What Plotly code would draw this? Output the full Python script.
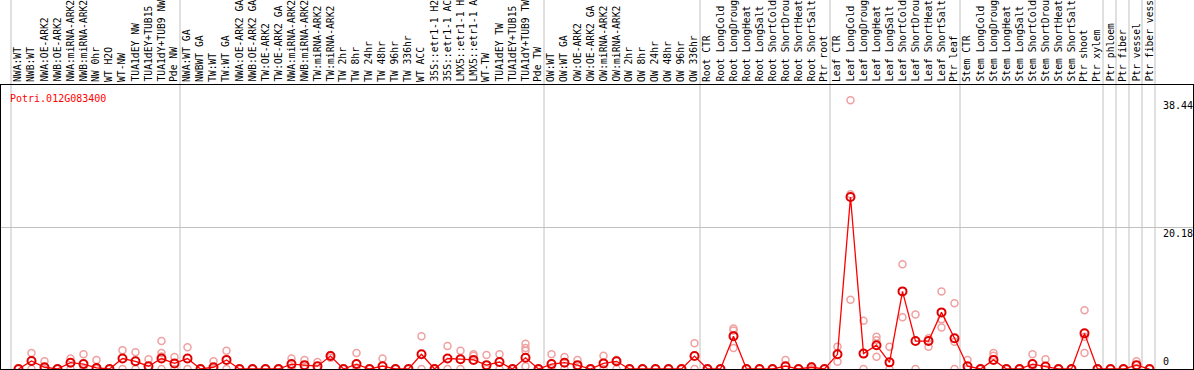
import plotly.graph_objects as go

gene = "Potri.012G083400"

labels = [
    # group 1
    "NWA:WT", "NWB:WT", "NWA:OE-ARK2", "NWB:OE-ARK2", "NWA:miRNA-ARK2", "NWB:miRNA-ARK2",
    "NW 0hr", "WT H2O", "WT-NW", "TUA1dEY NW", "TUA1dEY+TUB15", "TUA1dY+TUB9 NW", "Pde NW",
    # group 2
    "NWA:WT GA", "NWBWT GA", "TW:WT", "TW:WT GA", "NWA:OE-ARK2 GA", "NWB:OE-ARK2 GA",
    "TW:OE-ARK2", "TW:OE-ARK2 GA", "NWA:miRNA-ARK2", "NWB:miRNA-ARK2", "TW:miRNA-ARK2",
    "TW:miRNA-ARK2", "TW 2hr", "TW 8hr", "TW 24hr", "TW 48hr", "TW 96hr", "TW 336hr", "WT ACC",
    "35S::etr1-1 H2", "35S::etr1-1 AC", "LMX5::etr1-1 H", "LMX5::etr1-1 A", "WT-TW",
    "TUA1dEY TW", "TUA1dEY+TUB15", "TUA1dY+TUB9 TW", "Pde TW",
    # group 3
    "OW:WT", "OW:WT GA", "OW:OE-ARK2", "OW:OE-ARK2 GA", "OW:miRNA-ARK2", "OW:miRNA-ARK2",
    "OW 2hr", "OW 8hr", "OW 24hr", "OW 48hr", "OW 96hr", "OW 336hr",
    # group 4
    "Root CTR", "Root LongCold", "Root LongDroug", "Root LongHeat", "Root LongSalt",
    "Root ShortCold", "Root ShortDrou", "Root ShortHeat", "Root ShortSalt", "Ptr root",
    # group 5
    "Leaf CTR", "Leaf LongCold", "Leaf LongDroug", "Leaf LongHeat", "Leaf LongSalt",
    "Leaf ShortCold", "Leaf ShortDrou", "Leaf ShortHeat", "Leaf ShortSalt", "Ptr leaf",
    # group 6
    "Stem CTR", "Stem LongCold", "Stem LongDroug", "Stem LongHeat", "Stem LongSalt",
    "Stem ShortCold", "Stem ShortDrou", "Stem ShortHeat", "Stem ShortSalt", "Ptr shoot", "Ptr xylem",
    # single groups
    "Ptr phloem", "Ptr fiber", "Ptr vessel", "Ptr fiber vess",
]

# index where each group starts (last value = total count)
group_bounds = [0, 13, 41, 53, 63, 73, 84, 85, 86, 87, 88]

means = (
    [0, 1.15, 0.25, 0, 0.9, 0.7, 0.15, 0, 1.5, 1.1, 0.4, 1.5, 0.8]
    + [1.5, 0, 0.25, 1.3, 0, 0, 0, 0, 0.7, 0.55, 0.4, 1.85, 0, 0.7, 0, 0.4, 0, 0, 2.1, 0,
       1.5, 1.4, 1.3, 0.55, 1.0, 0, 1.6, 0]
    + [0.7, 0.9, 0.55, 0, 0.8, 1.1, 0, 0, 0, 0, 0, 1.85]
    + [0, 0, 4.7, 0, 0, 0, 0.4, 0, 0.25, 0]
    + [2.1, 24.6, 2.2, 3.4, 0.95, 11.1, 4.0, 4.0, 8.1, 4.4]
    + [0.4, 0, 1.3, 0, 0, 0.7, 0.35, 0, 0, 5.1, 0]
    + [0, 0, 0.55, 0]
)

rep1 = (
    [0, 2.3, 1.1, 0, 1.5, 2.1, 1.3, 0, 2.7, 2.4, 1.4, 4.0, 1.7]
    + [3.1, 0, 1.1, 2.6, 0, 0, 0, 0, 1.5, 1.3, 1.0, 2.0, 0, 2.3, 0, 1.5, 0, 0, 4.7, 0,
       3.3, 2.6, 2.1, 2.0, 2.1, 0, 3.6, 0]
    + [2.1, 1.7, 1.3, 0, 1.9, 1.3, 0, 0, 0, 0, 0, 3.7]
    + [0, 0, 5.8, 0, 0, 0, 1.3, 0, 0.4, 0]
    + [3.2, 38.44, 6.9, 4.6, 3.2, 15.0, 7.8, 4.4, 11.1, 9.4]
    + [1.3, 0, 2.3, 0, 0, 2.1, 1.4, 0, 0, 8.4, 0]
    + [0, 0, 1.1, 0]
)

rep2 = (
    [None, 0, 0, None, 0, 0, 0, None, 0, 0, 0, 2.3, 0]
    + [0, None, 0, 0, None, None, None, None, 0, 0, 0, 1.6, None, 0, None, 0, None, None, 0, None,
       0, 0, 1.9, 0, 0, None, 3.0, None]
    + [0, 0, 0, None, 0, 0, None, None, None, None, None, 0]
    + [None, None, 5.5, None, None, None, 0, None, 0, None]
    + [1.05, 25.0, 0, 4.1, 0, 7.4, 0, 3.2, 7.1, 3.9]
    + [0, None, 1.9, None, None, 0, 0, None, None, 4.6, None]
    + [None, None, 0, None]
)

rep3 = (
    [None, None, None, None, None, None, None, None, None, None, None, 1.8, None]
    + [None, None, None, None, None, None, None, None, None, None, None, None, None, None,
       None, None, None, None, None, None, None, None, None, None, None, None, 2.6, None]
    + [None, None, None, None, None, None, None, None, None, None, None, None]
    + [None, None, 3.0, None, None, None, None, None, None, None]
    + [None, 9.9, None, 1.75, None, None, None, None, 5.95, 0]
    + [None, None, None, None, None, None, None, None, None, 2.3, None]
    + [None, None, None, None]
)

rep4 = (
    [None, None, None, None, None, None, None, None, None, None, None, 0, None]
    + [None, None, None, None, None, None, None, None, None, None, None, None, None, None,
       None, None, None, None, None, None, None, None, None, None, None, None, 0.4, None]
    + [None] * 12
    + [None] * 10
    + [None] * 10
    + [None] * 11
    + [None] * 4
)

y_tick_values = [0, 20.18, 38.44]
y_tick_texts = ["0", "20.18", "38.44"]

# ---------------- layout geometry ----------------
W, H = 1194, 370
ML, MR, MT, MB = 1, 1, 85, 1
PX_PER_CAT = 13.0
FIRST_PX = 18.5           # pixel centre of category 0
PX_PER_UNIT = 6.99
plot_h = H - MT - MB
x_min = (ML - FIRST_PX) / PX_PER_CAT
x_max = (W - MR - FIRST_PX) / PX_PER_CAT
y_max = plot_h / PX_PER_UNIT


def ypaper(px):
    return (H - MB - px) / plot_h


def xpaper(px):
    return (px - ML) / (W - ML - MR)


FONT = "DejaVu Sans Mono"
idx = list(range(len(labels)))

fig = go.Figure()

# replicate points
rx, ry = [], []
for reps in (rep1, rep2, rep3, rep4):
    for i, v in enumerate(reps):
        if v is not None:
            rx.append(i)
            ry.append(v)
fig.add_trace(go.Scatter(
    x=rx, y=ry, mode="markers", cliponaxis=False,
    marker=dict(symbol="circle-open", size=7, color="#f0a0a0", line=dict(width=1.5, color="#f0a0a0")),
    hoverinfo="skip", showlegend=False,
))

# mean line + markers
fig.add_trace(go.Scatter(
    x=idx, y=means, mode="lines+markers", cliponaxis=False,
    line=dict(color="#ff0000", width=1.3),
    marker=dict(symbol="circle-open", size=8, color="#e00000", line=dict(width=2, color="#e00000")),
    text=labels, hovertemplate="%{text}: %{y}<extra></extra>", showlegend=False,
))

shapes = []
# group separators (full height, through the label band)
for b in group_bounds:
    sep_x = b - (FIRST_PX - 11) / PX_PER_CAT
    shapes.append(dict(type="line", xref="x", yref="paper", x0=sep_x, x1=sep_x,
                       y0=0, y1=ypaper(0), line=dict(color="#c0c0c0", width=1), layer="below"))

annotations = []
for i, lab in enumerate(labels):
    annotations.append(dict(
        x=i, xref="x", xshift=-1, y=ypaper(83), yref="paper",
        text=lab, textangle=-90, showarrow=False, xanchor="center", yanchor="bottom",
        borderpad=0, font=dict(family=FONT, size=9.7, color="#000000"),
    ))

# gene title
annotations.append(dict(
    x=xpaper(9), xref="paper", y=ypaper(98), yref="paper", text=gene, showarrow=False,
    xanchor="left", yanchor="middle", borderpad=0,
    font=dict(family=FONT, size=10, color="#ff0000"),
))

# y value labels on the right
for v, t in zip(y_tick_values, y_tick_texts):
    if v == 0:
        ya, shift = "bottom", 1
    else:
        ya, shift = "top", 1
    annotations.append(dict(
        x=xpaper(1162), xref="paper", y=v, yref="y", yshift=shift, text=t, showarrow=False,
        xanchor="left", yanchor=ya, borderpad=0,
        font=dict(family=FONT, size=10, color="#000000"),
    ))

fig.update_layout(
    width=W, height=H,
    margin=dict(l=ML, r=MR, t=MT, b=MB, pad=0),
    paper_bgcolor="white", plot_bgcolor="white",
    xaxis=dict(range=[x_min, x_max], showgrid=False, zeroline=False, showticklabels=False,
               ticks="", showline=True, mirror=True, linecolor="black", linewidth=1, fixedrange=True),
    yaxis=dict(range=[0, y_max], tickvals=[y_tick_values[1]], showgrid=True, gridcolor="#c0c0c0",
               gridwidth=1, zeroline=False, showticklabels=False, ticks="",
               showline=True, mirror=True, linecolor="black", linewidth=1, fixedrange=True),
    shapes=shapes, annotations=annotations,
    showlegend=False,
)

fig.write_html(
    "out.html",
    config={"displayModeBar": False},
    post_script="document.body.style.margin='0';document.body.style.overflow='hidden';",
)
